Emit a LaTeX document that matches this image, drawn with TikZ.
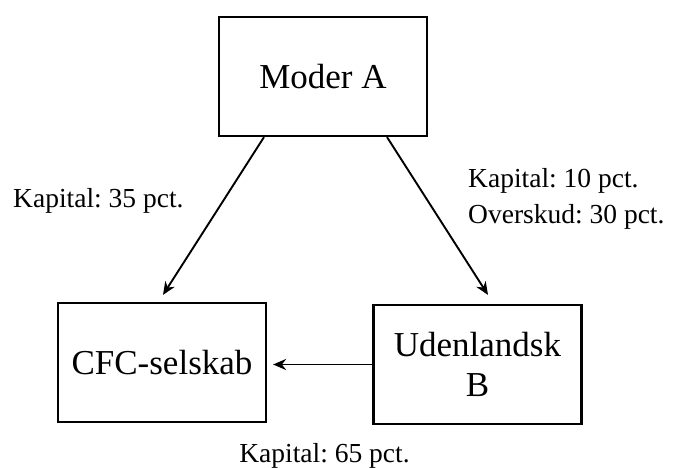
\documentclass[tikz,border=0pt]{standalone}
\usepackage{fontspec}
\setmainfont{Liberation Serif}
\usetikzlibrary{arrows.meta,calc}
\begin{document}
\frenchspacing
\begin{tikzpicture}[x=1pt,y=-1pt,
  box/.style={draw,line width=2.2pt,minimum width=208pt,minimum height=119pt,inner sep=0pt,align=center,font=\fontsize{35}{40}\selectfont},
  lbl/.style={inner sep=0pt,font=\fontsize{27.5}{33}\selectfont},
  conn/.style={line width=1.9pt,-{Stealth[length=13pt,width=11pt]}}]
\useasboundingbox (0,0) rectangle (674,468);
\node[box] (moder) at (323,76.5) {Moder A};
\node[box] (cfc) at (162,362.5) {CFC-selskab};
\node[box] (uden) at (477.5,364.5) {Udenlandsk\\B};
\draw[conn] ([xshift=-59pt]moder.south) -- ([xshift=1pt,yshift=7pt]cfc.north);
\draw[conn] ([xshift=64pt]moder.south) -- ([xshift=10.5pt,yshift=9pt]uden.north);
\draw[conn] (uden.west) -- ([xshift=6pt]uden.west -| cfc.east);
\node[lbl,anchor=base west] (l1) at (13,207) {Kapital: 35 pct.};
\node[lbl,anchor=base west] (l2) at (468,187) {Kapital: 10 pct.};
\node[lbl,anchor=base west] (l3) at (468,223) {Overskud: 30 pct.};
\node[lbl,anchor=base] (l4) at (324.5,462) {Kapital: 65 pct.};
\end{tikzpicture}
\end{document}
